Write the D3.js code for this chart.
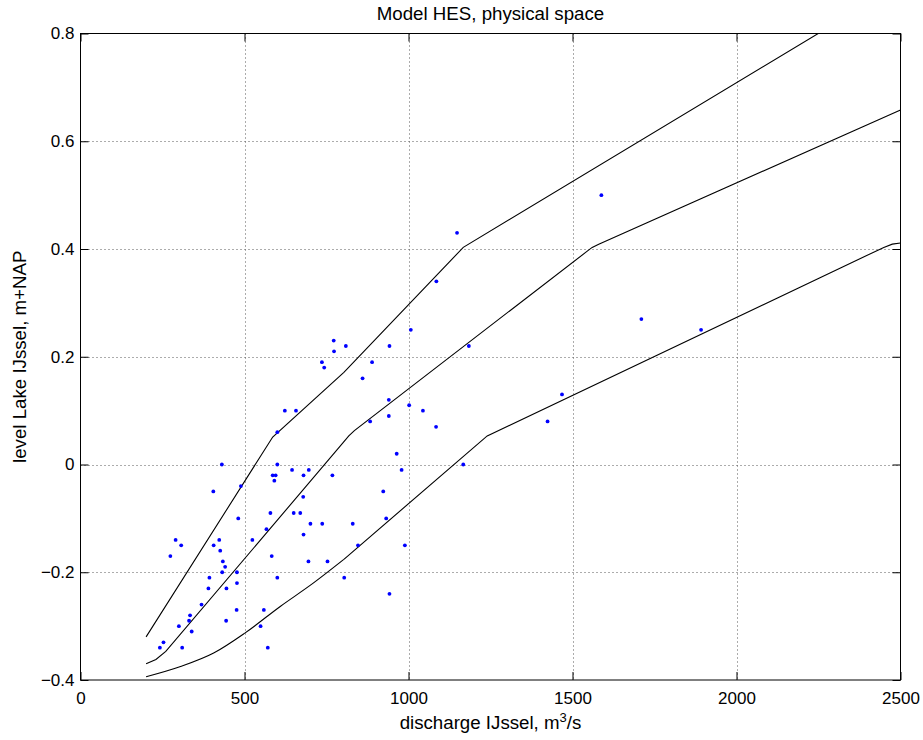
<!DOCTYPE html>
<html><head><meta charset="utf-8">
<script src="https://cdn.jsdelivr.net/npm/d3@7"></script>
<style>body{margin:0;background:#fff}svg{display:block}text{font-family:"Liberation Sans",Arial,sans-serif;fill:#000}</style>
</head><body>
<script>
const title = "Model HES, physical space";
const xTicks = [0, 500, 1000, 1500, 2000, 2500];
const yTicks = [-0.4, -0.2, 0, 0.2, 0.4, 0.6, 0.8];
const pointsX = [600,431,600,645,586,595,591,680,696,405,489,679,481,579,650,670,701,567,680,290,423,307,406,274,426,524,583,695,434,441,432,477,600,393,477,390,445,369,334,331,476,559,300,444,549,339,253,242,310,571,
1007,772,809,942,773,1184,736,743,889,860,940,1002,1044,623,657,940,883,1084,964,1167,979,768,923,932,737,830,846,989,753,804,942,
1588,1148,1085,1710,1468,1424,1892];
const pointsY = [0.06,0,0,-0.01,-0.02,-0.02,-0.03,-0.02,-0.01,-0.05,-0.04,-0.06,-0.10,-0.09,-0.09,-0.09,-0.11,-0.12,-0.13,-0.14,-0.14,-0.15,-0.15,-0.17,-0.16,-0.14,-0.17,-0.18,-0.18,-0.19,-0.20,-0.20,-0.21,-0.21,-0.22,-0.23,-0.23,-0.26,-0.28,-0.29,-0.27,-0.27,-0.30,-0.29,-0.30,-0.31,-0.33,-0.34,-0.34,-0.34,
0.25,0.23,0.22,0.22,0.21,0.22,0.19,0.18,0.19,0.16,0.12,0.11,0.10,0.10,0.10,0.09,0.08,0.07,0.02,0,-0.01,-0.02,-0.05,-0.10,-0.11,-0.11,-0.15,-0.15,-0.18,-0.21,-0.24,
0.50,0.43,0.34,0.27,0.13,0.08,0.25];
const upperX = [200, 586, 803, 1167, 2500];
const upperY = [-0.32, 0.051, 0.171, 0.403, 0.892];
const middleX = [200, 230, 260, 800, 818, 835, 1545, 1560, 1580, 2500];
const middleY = [-0.37, -0.362, -0.347, 0.040, 0.053, 0.063, 0.396, 0.403, 0.409, 0.658];
// lower curve: smooth start, then straight segments
const lowerStartX = [200, 305, 406, 501, 610, 701, 803];
const lowerStartY = [-0.394, -0.375, -0.35, -0.313, -0.263, -0.224, -0.176];
const lowerEndX = [803, 1240, 2449, 2475, 2500];
const lowerEndY = [-0.176, 0.053, 0.403, 0.409, 0.411];

const W = 923, H = 740;
const m = {left: 80.5, right: 900.5, top: 33.5, bottom: 680};
const svg = d3.select("body").append("svg").attr("width", W).attr("height", H);
const x = d3.scaleLinear().domain([0, 2500]).range([m.left, m.right]);
const y = d3.scaleLinear().domain([-0.4, 0.8]).range([m.bottom, m.top]);
const fs = 17, lfs = 18.7;

svg.append("defs").append("clipPath").attr("id", "clip")
  .append("rect").attr("x", m.left).attr("y", m.top).attr("width", m.right - m.left).attr("height", m.bottom - m.top);

// grid
const grid = svg.append("g").attr("stroke", "#000").attr("stroke-width", 1).attr("stroke-dasharray", "1,3").attr("opacity", 0.65);
xTicks.slice(1, -1).forEach(t => grid.append("line").attr("x1", Math.round(x(t)) + 0.5).attr("x2", Math.round(x(t)) + 0.5).attr("y1", m.top).attr("y2", m.bottom));
yTicks.slice(1, -1).forEach(t => grid.append("line").attr("y1", Math.round(y(t)) + 0.5).attr("y2", Math.round(y(t)) + 0.5).attr("x1", m.left).attr("x2", m.right));

// axes with inward ticks
const tl = 8;
const xb = d3.axisBottom(x).tickValues(xTicks).tickSizeInner(-tl).tickSizeOuter(0).tickPadding(12).tickFormat(d3.format("d"));
const xt = d3.axisTop(x).tickValues(xTicks).tickSizeInner(-tl).tickSizeOuter(0).tickFormat("");
const yl = d3.axisLeft(y).tickValues(yTicks).tickSizeInner(-tl).tickSizeOuter(0).tickPadding(6).tickFormat(d => d3.format(".1f")(d).replace("-", "\u2013").replace("0.0", "0"));
const yr = d3.axisRight(y).tickValues(yTicks).tickSizeInner(-tl).tickSizeOuter(0).tickFormat("");
function style(g) {
  g.selectAll("path").remove();
  g.selectAll("line").attr("stroke", "#000");
  g.selectAll("text").attr("font-size", fs).attr("font-family", "Liberation Sans, Arial, sans-serif").attr("fill", "#000");
}
svg.append("g").attr("transform", `translate(0,${m.bottom})`).call(xb).call(style);
svg.append("g").attr("transform", `translate(0,${m.top})`).call(xt).call(style);
svg.append("g").attr("transform", `translate(${m.left},0)`).call(yl).call(style);
svg.append("g").attr("transform", `translate(${m.right},0)`).call(yr).call(style);

// lines
const line = d3.line().x(d => x(d[0])).y(d => y(d[1]));
const smooth = d3.line().x(d => x(d[0])).y(d => y(d[1])).curve(d3.curveMonotoneX);
const plot = svg.append("g").attr("clip-path", "url(#clip)");
const zip = (xs, ys) => xs.map((v, i) => [v, ys[i]]);
[[zip(upperX, upperY), line], [zip(middleX, middleY), line], [zip(lowerStartX, lowerStartY), smooth], [zip(lowerEndX, lowerEndY), line]].forEach(([data, gen]) => {
  plot.append("path").datum(data).attr("d", gen)
    .attr("fill", "none").attr("stroke", "#000").attr("stroke-width", 1.1);
});

// points
plot.selectAll("circle").data(zip(pointsX, pointsY)).join("circle")
  .attr("cx", d => x(d[0])).attr("cy", d => y(d[1])).attr("r", 1.9).attr("fill", "#0000ff");

// box
svg.append("rect").attr("x", m.left).attr("y", m.top).attr("width", m.right - m.left).attr("height", m.bottom - m.top)
  .attr("fill", "none").attr("stroke", "#000").attr("stroke-width", 1);

// labels
svg.append("text").attr("x", (m.left + m.right) / 2).attr("y", 20).attr("text-anchor", "middle").attr("font-size", lfs).text(title);
const xl = svg.append("text").attr("x", (m.left + m.right) / 2).attr("y", 729).attr("text-anchor", "middle").attr("font-size", lfs);
xl.append("tspan").text("discharge IJssel, m");
xl.append("tspan").attr("font-size", 13).attr("dy", -7).text("3");
xl.append("tspan").attr("dy", 7).text("/s");
svg.append("text").attr("transform", `translate(26,${(m.top + m.bottom) / 2}) rotate(-90)`).attr("text-anchor", "middle").attr("font-size", lfs).text("level Lake IJssel, m+NAP");
</script>
</body></html>
